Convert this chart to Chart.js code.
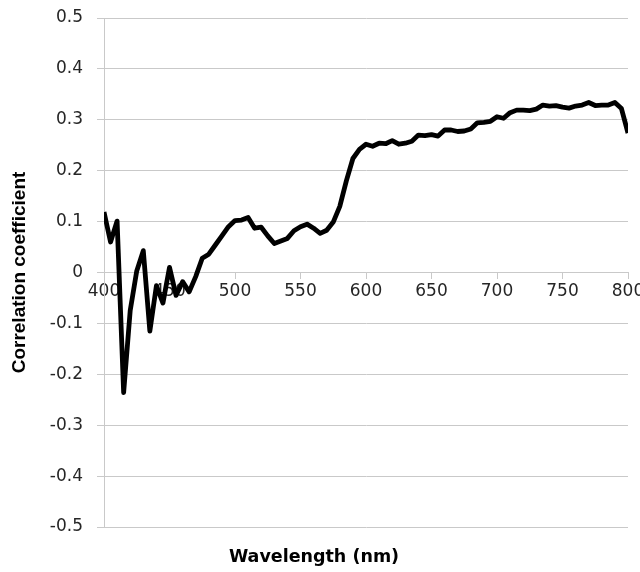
<!DOCTYPE html>
<html>
<head>
<meta charset="utf-8">
<script src="https://cdn.jsdelivr.net/npm/chart.js@4.4.1/dist/chart.umd.min.js"></script>
<style>
  html, body { margin: 0; padding: 0; background: #fff; }
  #wrap { width: 640px; height: 572px; }
</style>
</head>
<body>
<div id="wrap"><canvas id="corrChart" width="640" height="572"></canvas></div>
<script>
// wavelength (nm), 5 nm steps
const wavelengths = [
  400, 405, 410, 415, 420, 425, 430, 435, 440, 445,
  450, 455, 460, 465, 470, 475, 480, 485, 490, 495,
  500, 505, 510, 515, 520, 525, 530, 535, 540, 545,
  550, 555, 560, 565, 570, 575, 580, 585, 590, 595,
  600, 605, 610, 615, 620, 625, 630, 635, 640, 645,
  650, 655, 660, 665, 670, 675, 680, 685, 690, 695,
  700, 705, 710, 715, 720, 725, 730, 735, 740, 745,
  750, 755, 760, 765, 770, 775, 780, 785, 790, 795,
  800
];

// correlation coefficient
const correlation = [
  0.119, 0.060, 0.101, -0.236, -0.075, 0.003, 0.043, -0.115, -0.026, -0.060,
  0.010, -0.045, -0.018, -0.038, -0.008, 0.028, 0.036, 0.054, 0.072, 0.090,
  0.102, 0.103, 0.108, 0.087, 0.089, 0.072, 0.057, 0.062, 0.067, 0.082,
  0.090, 0.095, 0.087, 0.077, 0.083, 0.099, 0.130, 0.180, 0.224, 0.242,
  0.252, 0.248, 0.254, 0.253, 0.259, 0.252, 0.254, 0.258, 0.270, 0.269,
  0.271, 0.268, 0.280, 0.280, 0.277, 0.278, 0.282, 0.294, 0.295, 0.297,
  0.306, 0.303, 0.314, 0.319, 0.319, 0.318, 0.321, 0.329, 0.327, 0.328,
  0.325, 0.323, 0.327, 0.329, 0.334, 0.328, 0.329, 0.329, 0.334, 0.322,
  0.274
];

const xTicks = [400, 450, 500, 550, 600, 650, 700, 750, 800];
const yTicks = [-0.5, -0.4, -0.3, -0.2, -0.1, 0, 0.1, 0.2, 0.3, 0.4, 0.5];

const gridGray = '#c9c9c9';
const tickFont = { family: "'DejaVu Sans', sans-serif", size: 17 };

const ctx = document.getElementById('corrChart').getContext('2d');

new Chart(ctx, {
  type: 'line',
  data: {
    datasets: [{
      label: 'Correlation coefficient',
      data: wavelengths.map((w, i) => ({ x: w, y: correlation[i] })),
      borderColor: '#000',
      borderWidth: 4.8,
      borderJoinStyle: 'round',
      pointRadius: 0,
      tension: 0,
      fill: false
    }]
  },
  options: {
    responsive: false,
    animation: false,
    layout: { padding: { top: 18, right: 12, left: 0, bottom: 0 } },
    plugins: {
      legend: { display: false },
      tooltip: { enabled: false },
      title: {
        display: true,
        position: 'bottom',
        text: 'Wavelength (nm)',
        color: '#000',
        font: { family: "'DejaVu Sans', sans-serif", size: 17.5, weight: 'bold' },
        padding: { top: 20, bottom: 4 }
      }
    },
    scales: {
      x: {
        type: 'linear',
        position: { y: 0 },
        min: 400,
        max: 800,
        afterBuildTicks: (scale) => { scale.ticks = xTicks.map(v => ({ value: v })); },
        afterFit: (scale) => { scale.paddingLeft = 0; scale.paddingRight = 0; },
        ticks: {
          color: '#262626',
          font: tickFont,
          padding: 3,
          maxRotation: 0,
          autoSkip: false
        },
        grid: {
          drawOnChartArea: false,
          drawTicks: true,
          tickLength: 6,
          color: gridGray
        },
        border: { display: true, color: gridGray, width: 1 }
      },
      y: {
        min: -0.5,
        max: 0.5,
        afterBuildTicks: (scale) => { scale.ticks = yTicks.map(v => ({ value: v })); },
        afterFit: (scale) => {
          scale.width = 104;
          scale.paddingTop = 0;
          scale.paddingBottom = 0;
        },
        ticks: {
          color: '#262626',
          font: tickFont,
          padding: 14,
          callback: (v) => String(Math.round(v * 10) / 10)
        },
        grid: {
          color: gridGray,
          lineWidth: 1,
          tickLength: 7
        },
        border: { display: true, color: gridGray, width: 1 },
        title: {
          display: true,
          text: 'Correlation coefficient',
          color: '#000',
          font: { family: "'Liberation Sans', Arial, sans-serif", size: 19, weight: 'bold' },
          padding: { top: 8, bottom: 0 }
        }
      }
    }
  }
});
</script>
</body>
</html>
